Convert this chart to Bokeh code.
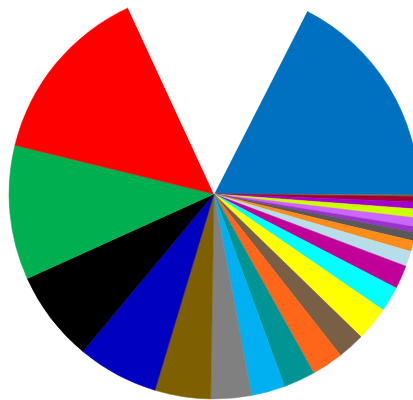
import math
from bokeh.plotting import figure
from bokeh.models import Range1d, ColumnDataSource
from bokeh.embed import file_html
from bokeh.resources import INLINE

# Slices in clockwise order, starting at the top-right edge of the blue slice
categories = [
    "A", "B", "C", "D", "E", "F", "G", "H", "I", "J", "K", "L",
    "M", "N", "O", "P", "Q", "R", "S", "T", "U", "V", "W", "(blank)",
]
shares = [
    17.6, 0.1, 0.45, 0.55, 0.7, 0.7, 0.45, 0.65, 0.85, 1.2, 1.85, 2.0,
    2.7, 2.15, 2.5, 2.5, 2.65, 3.2, 4.4, 6.4, 7.2, 10.6, 14.3, 14.4,
]
colors = [
    "#0070C0", "#8B6F3A", "#A00030", "#A000D0", "#CCFF00", "#CC66FF",
    "#9933CC", "#595959", "#FF8C1A", "#B7DEE8", "#C00099", "#00FFFF",
    "#FFFF00", "#7A5F47", "#FF6619", "#009494", "#00B0F0", "#808080",
    "#7F6000", "#0000C0", "#000000", "#00B050", "#FF0000", "#FFFFFF",
]

start_deg = 63.0
total = sum(shares)
cum = 0.0
a_start, a_end = [], []
for s in shares:
    top = start_deg - cum / total * 360.0
    cum += s
    bot = start_deg - cum / total * 360.0
    a_start.append(math.radians(bot))
    a_end.append(math.radians(top))

W, H = 413, 400
cx, cy, r = 213.5, H - 193.5, 205.0

src = ColumnDataSource(dict(cat=categories, val=shares, color=colors,
                            start=a_start, end=a_end))

p = figure(width=W, height=H, output_backend="svg", toolbar_location=None,
           x_range=Range1d(0, W), y_range=Range1d(0, H),
           min_border=0, min_border_left=0, min_border_right=0,
           min_border_top=0, min_border_bottom=0)
p.axis.visible = False
p.grid.visible = False
p.outline_line_color = None
p.background_fill_color = "white"
p.border_fill_color = "white"

p.wedge(x=cx, y=cy, radius=r, start_angle="start", end_angle="end",
        fill_color="color", line_color="color", line_width=0.5, source=src)

open("out.html", "w").write(file_html(p, INLINE))
